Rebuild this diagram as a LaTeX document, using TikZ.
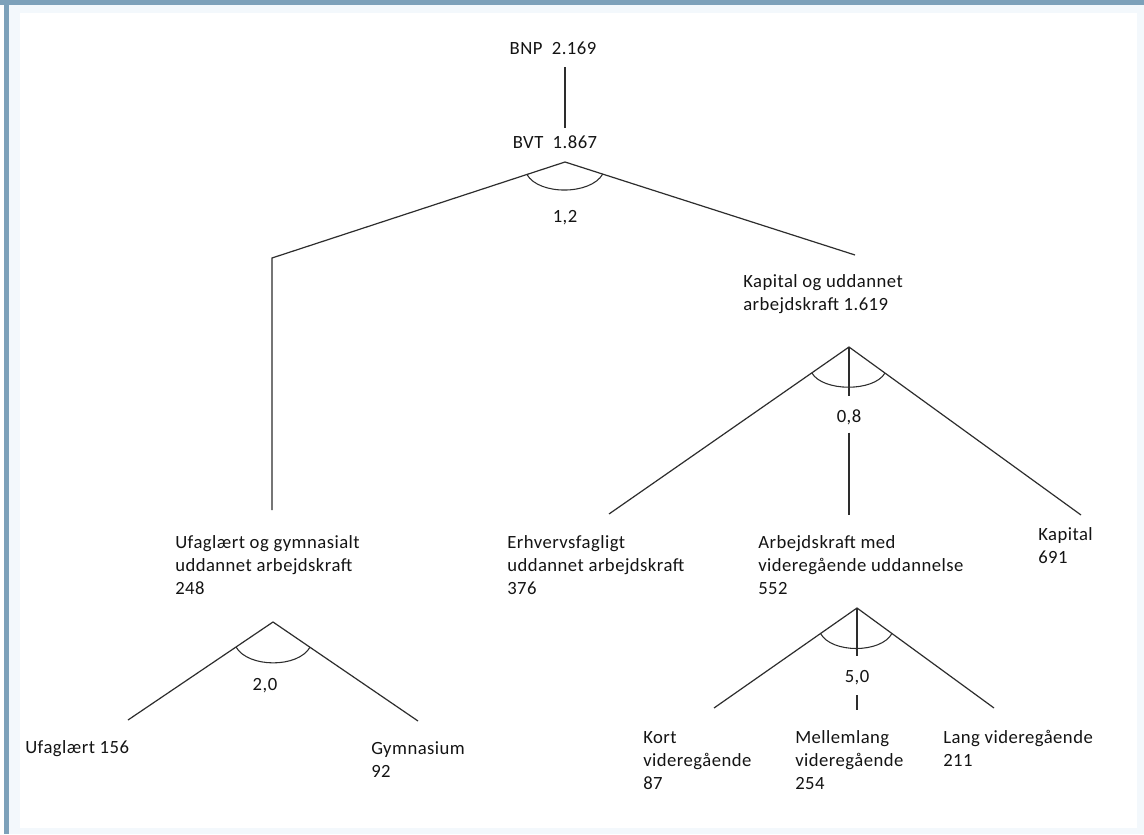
\documentclass[tikz,border=0pt]{standalone}
\usepackage{fontspec}
\setmainfont[LetterSpace=2.5]{Carlito}
\usetikzlibrary{calc}
\definecolor{bandblue}{RGB}{125,161,186}
\definecolor{paleblue}{RGB}{243,248,252}
\definecolor{inkgray}{RGB}{45,45,45}

\begin{document}
\begin{tikzpicture}[x=0.75pt,y=-0.75pt]
      % styles
      \tikzstyle{lbl}=[anchor=base west,align=left,inner sep=0pt,text=black!92,
                       font=\fontsize{14}{17.25}\selectfont]
      \tikzstyle{elas}=[lbl,anchor=base]
      \tikzstyle{branch}=[draw=inkgray,line width=0.9pt]
      \tikzstyle{hook}=[draw=inkgray,line width=0.8pt]

      % frame
      \useasboundingbox (0,0) rectangle (1144,834);
      \fill[paleblue] (0,0) rectangle (1144,834);
      \fill[white] (0,0) rectangle (4,834);
      \fill[bandblue] (0,0) rectangle (1144,5.5);
      \fill[bandblue] (4,0) rectangle (8.5,834);
      \fill[white] (20,13) rectangle (1137,827.5);

      % nodes (multi-line labels sit on their last baseline)
      \node[elas] (bnp) at (553,55)  {BNP\ \ 2.169};
      \node[elas] (bvt) at (555,149) {BVT\ \ 1.867};
      \node[elas] (e1)  at (565,223) {1,2};
      \node[lbl]  (kud) at (743,310) {Kapital og uddannet\\arbejdskraft 1.619};
      \node[elas] (e2)  at (849,422) {0,8};
      \node[lbl]  (ufg) at (175,594) {Ufaglært og gymnasialt\\uddannet arbejdskraft\\248};
      \node[lbl]  (erh) at (507,594) {Erhvervsfagligt\\uddannet arbejdskraft\\376};
      \node[lbl]  (vid) at (758,594) {Arbejdskraft med\\videregående uddannelse\\552};
      \node[lbl]  (kap) at (1038,563) {Kapital\\691};
      \node[elas] (e3)  at (265,690) {2,0};
      \node[elas] (e4)  at (857,682) {5,0};
      \node[lbl]  (ufa) at (25,753)  {Ufaglært 156};
      \node[lbl]  (gym) at (371,777) {Gymnasium\\92};
      \node[lbl]  (kort) at (643,789) {Kort\\videregående\\87};
      \node[lbl]  (mell) at (795,789) {Mellemlang\\videregående\\254};
      \node[lbl]  (lang) at (943,766) {Lang videregående\\211};

      % branch points
      \coordinate (t1) at (565,162);
      \coordinate (k1) at (272,258);
      \coordinate (u1) at (272,510);
      \coordinate (r1) at (855,255);
      \coordinate (t2) at (849,347);
      \coordinate (l2) at (609,514);
      \coordinate (m2) at (849,515);
      \coordinate (r2) at (1081,515);
      \coordinate (t3) at (273,622);
      \coordinate (l3) at (128,720);
      \coordinate (r3) at (418,721);
      \coordinate (t4) at (857,608);
      \coordinate (l4) at (714,708);
      \coordinate (m4) at (857,710);
      \coordinate (r4) at (994,708);

      % tree
      \draw[branch,shorten <=9pt,shorten >=6pt] (bnp.south -| t1) -- (bvt.north -| t1);
      \draw[branch] (u1) -- (k1) -- (t1) -- (r1);
      \draw[branch] (l2) -- (t2) -- (r2);
      \draw[branch,shorten >=10pt] (t2) -- (e2);
      \draw[branch,shorten <=6pt] (e2) -- (m2);
      \draw[branch] (l3) -- (t3) -- (r3);
      \draw[branch] (l4) -- (t4) -- (r4);
      \draw[branch,shorten >=10pt] (t4) -- (e4);
      \draw[branch,shorten <=8pt] (e4) -- (m4);

      % substitution arcs
      \draw[hook] ($(t1)!0.13!(k1)$) .. controls +(12,21) and +(-12,21) .. ($(t1)!0.13!(r1)$);
      \draw[hook] ($(t2)!0.155!(l2)$) .. controls +(11,19) and +(-11,19) .. ($(t2)!0.155!(r2)$);
      \draw[hook] ($(t3)!0.255!(l3)$) .. controls +(12,21) and +(-12,21) .. ($(t3)!0.255!(r3)$);
      \draw[hook] ($(t4)!0.255!(l4)$) .. controls +(11,20) and +(-11,20) .. ($(t4)!0.255!(r4)$);
    \end{tikzpicture}
\end{document}
